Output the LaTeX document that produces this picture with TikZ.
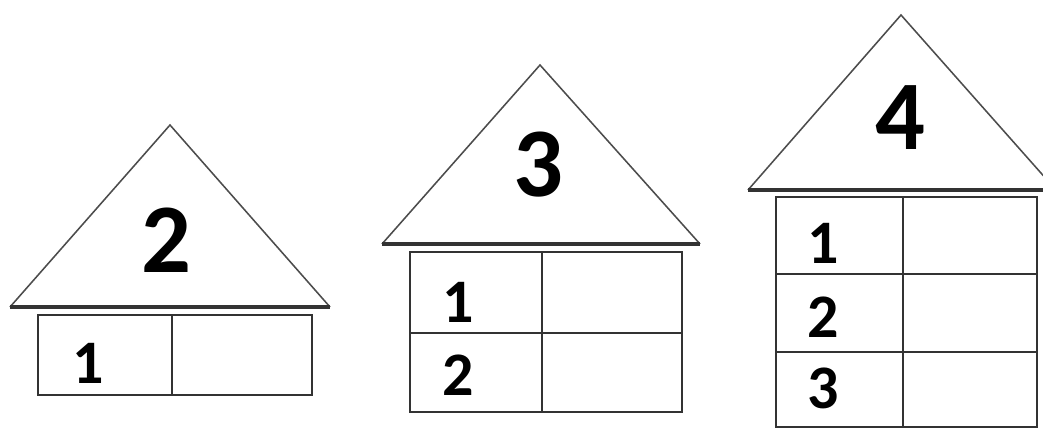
\documentclass[tikz,border=0pt]{standalone}
\usepackage{fontspec}
\setmainfont{Carlito}
\usepackage{tikz}

\begin{document}
\begin{tikzpicture}[x=0.025cm,y=-0.025cm,
                    roof/.style={draw=black!70,line width=1.1pt,line join=miter},
                    eave/.style={draw=black!80,line width=2.2pt},
                    wall/.style={draw=black!80,line width=1.6pt},
                    big/.style={font=\fontsize{70}{70}\selectfont\bfseries},
                    num/.style={font=\fontsize{44}{44}\selectfont\bfseries}]
  \useasboundingbox (0,0) rectangle (1043,428);

  % house of two
  \draw[roof] (10,307) -- (170,125) -- (330,307);
  \draw[eave] (10,307) -- (330,307);
  \draw[wall] (38,315) rectangle (312,395);
  \draw[wall] (172,315) -- (172,395);
  \node[big] (twoRoof) at (166,240) {2};
  \node[num] (twoA)    at (88,363)  {1};

  % house of three
  \draw[roof] (382,244) -- (540,65) -- (700,244);
  \draw[eave] (382,244) -- (700,244);
  \draw[wall] (410,252) rectangle (682,412);
  \draw[wall] (410,333) -- (682,333);
  \draw[wall] (542,252) -- (542,412);
  \node[big] (threeRoof) at (538,165) {3};
  \node[num] (threeA)    at (458,302) {1};
  \node[num] (threeB)    at (458,375) {2};

  % house of four
  \draw[roof] (748,190) -- (901,15) -- (1056,190);
  \draw[eave] (748,190) -- (1056,190);
  \draw[wall] (776,197) rectangle (1037,427);
  \draw[wall] (776,274) -- (1037,274);
  \draw[wall] (776,352) -- (1037,352);
  \draw[wall] (903,197) -- (903,427);
  \node[big] (fourRoof) at (900,118) {4};
  \node[num] (fourA)    at (823,243) {1};
  \node[num] (fourB)    at (823,317) {2};
  \node[num] (fourC)    at (823,388) {3};
\end{tikzpicture}
\end{document}
